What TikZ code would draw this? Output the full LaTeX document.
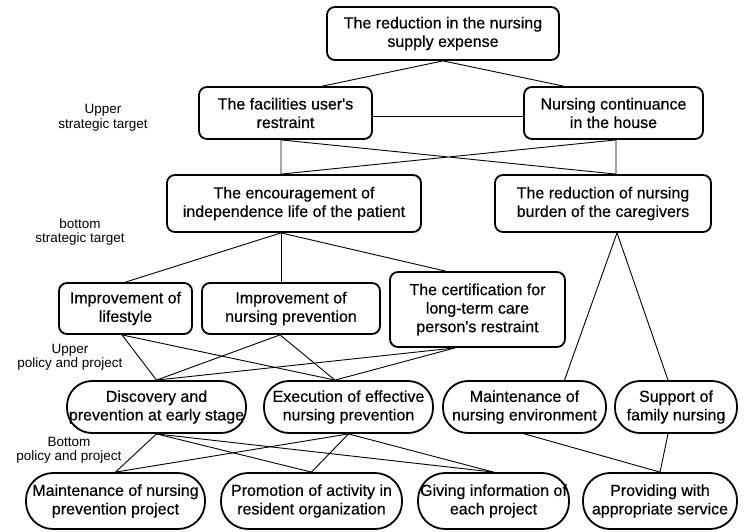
\documentclass[tikz,border=0pt]{standalone}
\usepackage{fontspec}
\setmainfont{Liberation Sans}
\newfontfamily\boxfam[FakeBold=0.5]{Liberation Sans}
\newcommand{\boxfont}{\boxfam\fontsize{16}{18.5}\selectfont}
\newcommand{\lblfont}{\fontsize{13.5}{14.5}\selectfont}

\begin{document}
\begin{tikzpicture}[x=1pt,y=-1pt,line width=0.9pt,line join=round,
  box/.style={draw,line width=1.8pt,rounded corners=8pt,align=center,font=\boxfont,inner sep=0pt,minimum height=52pt},
  pill/.style={box,rounded corners=25pt},
  pillb/.style={box,minimum height=56pt,rounded corners=27pt},
  lbl/.style={align=center,font=\lblfont,inner sep=0pt}]
\useasboundingbox (0,0) rectangle (747,531);

% strategic targets
\node[box,minimum width=232pt,minimum height=53pt] (cost) at (443,33.5) {The reduction in the nursing\\supply expense};
\node[box,minimum width=173pt] (fac) at (285.5,113) {The facilities user\textquotesingle s\\restraint};
\node[box,minimum width=179pt] (home) at (613.5,113) {Nursing continuance\\in the house};
\node[box,minimum width=254pt,minimum height=57pt] (indep) at (294,203.5) {The encouragement of\\independence life of the patient};
\node[box,minimum width=216pt,minimum height=57pt] (burden) at (603,203.5) {The reduction of nursing\\burden of the caregivers};

% upper policy
\node[box,minimum width=133pt,minimum height=51pt] (life) at (125.5,308.5) {Improvement of\\lifestyle};
\node[box,minimum width=178pt,minimum height=51pt] (prev) at (291,308.5) {Improvement of\\nursing prevention};
\node[box,minimum width=175pt,minimum height=75pt] (cert) at (477.5,309.5) {The certification for\\long-term care\\person\textquotesingle s restraint};
\node[pill,minimum width=179pt] (disc) at (156.5,407) {Discovery and\\prevention at early stage};
\node[pill,minimum width=169pt] (exec) at (348.5,407) {Execution of effective\\nursing prevention};
\node[pill,minimum width=163pt] (env) at (524.5,407) {Maintenance of\\nursing environment};
\node[pill,minimum width=122pt] (fam) at (676,407) {Support of\\family nursing};

% bottom policy
\node[pillb,minimum width=179pt] (proj) at (115.5,501) {Maintenance of nursing\\prevention project};
\node[pillb,minimum width=181pt] (resid) at (311.5,501) {Promotion of activity in\\resident organization};
\node[pillb,minimum width=151pt] (info) at (493.5,501) {Giving information of\\each project};
\node[pillb,minimum width=154pt] (serv) at (660,501) {Providing with\\appropriate service};

% level labels
\node[lbl] (upst) at (103,118) {Upper\\strategic target};
\node[lbl] (botst) at (80,232) {bottom\\strategic target};
\node[lbl] (uppol) at (70,357) {Upper\\policy and project};
\node[lbl] (botpol) at (69,450) {Bottom\\policy and project};

% links
\draw (cost.south) -- ([xshift=37pt]fac.north);
\draw (cost.south) -- ([xshift=-50pt]home.north);
\draw ([yshift=-3pt]fac.east) -- ([yshift=-3pt]home.west);
\draw ([xshift=-4.5pt]fac.south) -- ([xshift=-13pt]indep.north) -- ([xshift=2.5pt]home.south) -- ([xshift=13pt]burden.north) -- cycle;
\draw ([xshift=-13pt]indep.south) -- (life.north);
\draw ([xshift=-13pt]indep.south) -- ([xshift=-10pt]prev.north);
\draw ([xshift=-13pt]indep.south) -- ([xshift=-32pt]cert.north);
\draw ([xshift=14pt]burden.south) -- ([xshift=40pt]env.north);
\draw ([xshift=14pt]burden.south) -- ([xshift=-8pt]fam.north);
\foreach \a/\s in {life/-3.5,prev/-11,cert/-22.5}{
  \draw ([xshift=\s]\a.south) -- (disc.north);
  \draw ([xshift=\s]\a.south) -- ([xshift=-13.5pt]exec.north);
}
\foreach \a in {disc,exec}
  \foreach \b in {proj,resid,info}
    \draw (\a.south) -- (\b.north);
\draw (env.south) -- (serv.north);
\draw ([xshift=-8pt]fam.south) -- (serv.north);
\end{tikzpicture}
\end{document}
